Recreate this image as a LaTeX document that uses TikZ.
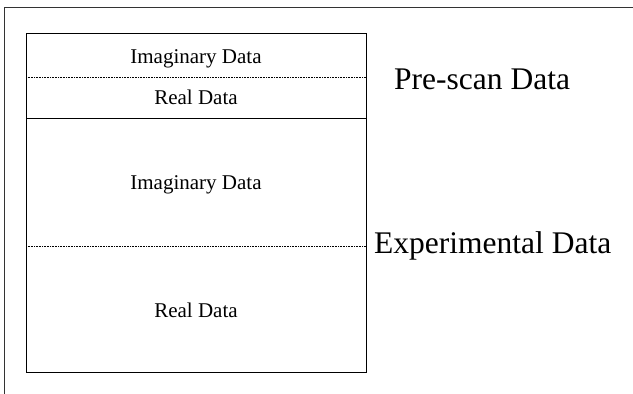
\documentclass[tikz,border=0pt]{standalone}
\usepackage{fontspec}
\setmainfont{Liberation Serif}
\usetikzlibrary{positioning}

\begin{document}
\begin{tikzpicture}[x=1pt, y=-1pt,
    sep/.style={densely dotted, line width=0.6pt},
    cell/.style={font=\fontsize{21}{25}\selectfont, anchor=base, inner sep=0pt},
    side/.style={font=\fontsize{31.5}{36}\selectfont, anchor=base west, inner sep=0pt}]
    \useasboundingbox (0,0) rectangle (633,394);

    % Outer frame (top and left edges only)
    \draw[line width=0.7pt, black!80] (4,394) -- (4,7) -- (633,7);

    % Data block and its partitions
    \draw[line width=0.7pt] (26,33) rectangle (366,372);
    \draw[sep] (26,77) -- (366,77);
    \draw[line width=0.7pt] (26,118) -- (366,118);
    \draw[sep] (26,246) -- (366,246);

    % Cell labels
    \node[cell] (preim) at (196,63) {Imaginary Data};
    \node[cell] (prere) at (196,104) {Real Data};
    \node[cell] (expim) at (196,189) {Imaginary Data};
    \node[cell] (expre) at (196,317) {Real Data};

    % Side labels
    \node[side] (prescan) at (394,89) {Pre-scan Data};
    \node[side] (expt) at (374,253) {Experimental Data};
\end{tikzpicture}
\end{document}
